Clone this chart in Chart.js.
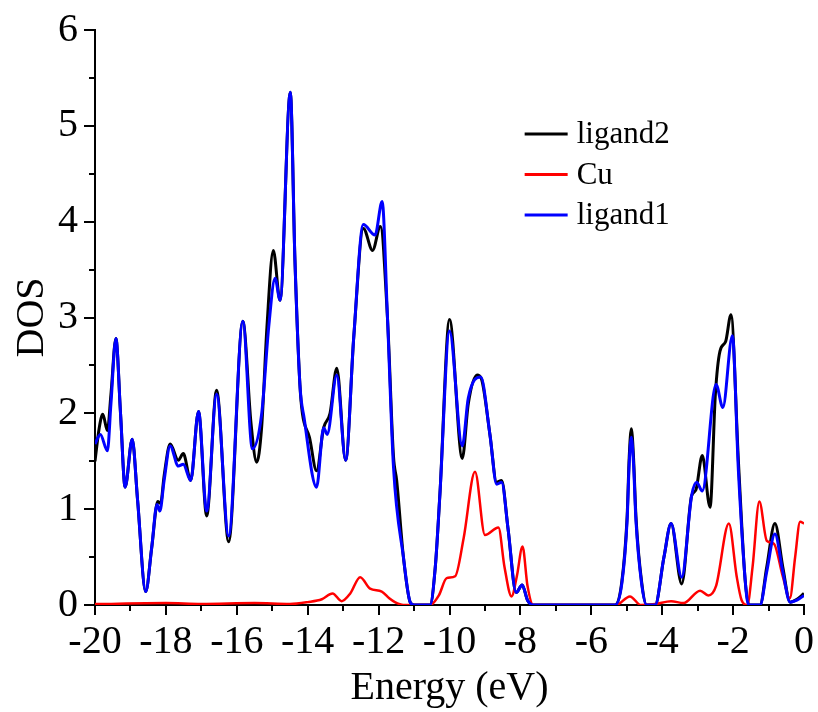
<!DOCTYPE html>
<html><head><meta charset="utf-8">
<script src="https://cdn.jsdelivr.net/npm/chart.js@4/dist/chart.umd.min.js"></script>
<style>html,body{margin:0;padding:0;background:#fff}#wrap{width:818px;height:712px}</style>
</head><body><div id="wrap"><canvas id="c" width="818" height="712"></canvas></div>
<script>
// ---- data ----
const seriesNames = ['ligand2', 'Cu', 'ligand1'];
const seriesColors = ['#000000', '#ff0000', '#0000ff'];

const ligand2E = [-20.0,-19.88,-19.78,-19.65,-19.55,-19.41,-19.28,-19.15,-18.95,-18.8,-18.57,-18.4,-18.23,-18.15,-18.05,-17.88,-17.65,-17.51,-17.3,-17.08,-16.85,-16.57,-16.23,-15.83,-15.6,-15.44,-15.3,-15.15,-14.97,-14.78,-14.49,-14.36,-14.22,-14.15,-13.95,-13.75,-13.55,-13.37,-13.18,-12.93,-12.7,-12.43,-12.17,-11.95,-11.75,-11.58,-11.49,-11.3,-11.11,-11.0,-10.55,-10.4,-10.27,-10.0,-9.64,-9.47,-9.22,-9.1,-8.86,-8.67,-8.53,-8.35,-8.12,-7.95,-7.8,-7.64,-5.33,-5.14,-4.99,-4.93,-4.87,-4.81,-4.74,-4.58,-4.44,-4.2,-3.95,-3.75,-3.45,-3.17,-3.05,-2.87,-2.65,-2.5,-2.37,-2.21,-2.06,-1.85,-1.66,-1.55,-1.24,-1.05,-0.82,-0.6,-0.39,-0.2,0.0];
const ligand2DOS = [1.50,1.85,1.99,1.82,2.2,2.78,2.0,1.23,1.73,1.1,0.14,0.6,1.08,1.06,1.35,1.68,1.51,1.58,1.30,2.02,0.93,2.24,0.66,2.96,1.9,1.49,1.85,2.9,3.70,3.18,5.35,3.6,2.3,2.0,1.75,1.40,1.85,2.0,2.47,1.51,2.8,3.93,3.70,3.95,3.0,1.55,1.30,0.5,0.03,0,0,0.4,1.16,2.98,1.53,2.1,2.40,2.36,1.78,1.28,1.30,0.8,0.13,0.21,0.05,0,0,0.24,0.92,1.55,1.84,1.55,0.92,0.24,0,0,0.5,0.85,0.22,1.14,1.2,1.56,1.02,2.2,2.65,2.75,3.03,1.5,0.26,0,0,0.4,0.85,0.4,0.03,0.06,0.12];

const cuE = [-20,-18,-17,-15.5,-14.5,-14.0,-13.6,-13.3,-13.04,-12.8,-12.52,-12.24,-11.91,-11.7,-11.54,-11.3,-10.55,-10.3,-10.08,-9.84,-9.6,-9.28,-9.0,-8.62,-8.45,-8.25,-8.1,-7.94,-7.8,-7.64,-5.3,-4.91,-4.6,-4.2,-3.75,-3.4,-2.93,-2.7,-2.48,-2.12,-1.9,-1.76,-1.6,-1.45,-1.26,-1.05,-0.85,-0.6,-0.4,-0.25,-0.11,0];
const cuDOS = [0.01,0.02,0.01,0.02,0.01,0.03,0.06,0.12,0.04,0.12,0.29,0.17,0.14,0.07,0.03,0,0,0.1,0.28,0.30,0.7,1.39,0.73,0.81,0.4,0.09,0.3,0.61,0.2,0,0,0.09,0,0.01,0.04,0.02,0.15,0.10,0.2,0.85,0.3,0.05,0,0.4,1.08,0.67,0.64,0.3,0.07,0.5,0.87,0.85];

const ligand1E = [-20.0,-19.85,-19.65,-19.55,-19.41,-19.28,-19.15,-18.95,-18.8,-18.57,-18.4,-18.25,-18.17,-18.05,-17.88,-17.65,-17.51,-17.3,-17.08,-16.85,-16.57,-16.23,-15.83,-15.56,-15.3,-15.1,-14.92,-14.78,-14.49,-14.36,-14.22,-14.1,-13.75,-13.55,-13.45,-13.18,-12.93,-12.7,-12.43,-12.1,-11.9,-11.75,-11.58,-11.3,-11.11,-11.0,-10.55,-10.4,-10.27,-10.0,-9.64,-9.47,-9.12,-8.86,-8.67,-8.53,-8.35,-8.12,-7.95,-7.8,-7.64,-5.33,-5.14,-4.99,-4.93,-4.87,-4.81,-4.74,-4.58,-4.44,-4.2,-3.95,-3.75,-3.45,-3.17,-3.03,-2.87,-2.48,-2.29,-2.02,-1.85,-1.62,-1.55,-1.24,-1.05,-0.82,-0.6,-0.39,-0.2,0.0];
const ligand1DOS = [1.68,1.78,1.61,2.1,2.78,2.0,1.23,1.73,1.1,0.14,0.6,1.05,0.98,1.3,1.66,1.45,1.47,1.30,2.02,0.98,2.2,0.72,2.96,1.63,1.99,2.9,3.41,3.18,5.35,3.6,2.3,1.95,1.23,1.85,1.78,2.40,1.51,2.8,3.97,3.86,4.21,3.0,1.44,0.5,0.03,0,0,0.4,1.16,2.86,1.66,2.16,2.38,1.78,1.26,1.28,0.8,0.13,0.21,0.05,0,0,0.22,0.88,1.48,1.75,1.48,0.88,0.22,0,0,0.5,0.85,0.29,1.14,1.28,1.19,2.30,2.06,2.81,1.4,0.1,0,0,0.35,0.74,0.35,0.03,0.05,0.10];

const xTickValues = [-20,-18,-16,-14,-12,-10,-8,-6,-4,-2,0];
const yTickValues = [0,1,2,3,4,5,6];

// ---- build ----
const pts = (xs, ys) => xs.map((x, i) => ({x: x, y: ys[i]}));
const serif = 'Liberation Serif, Times New Roman, serif';
Chart.defaults.color = '#000';

const minorTicks = {
  id: 'minorTicks',
  afterDraw(chart) {
    const {ctx, scales: {x, y}} = chart;
    ctx.save();
    ctx.strokeStyle = '#000';
    ctx.lineWidth = 2;
    for (let i = 0; i < yTickValues.length - 1; i++) {
      const v = (yTickValues[i] + yTickValues[i + 1]) / 2;
      const py = Math.round(y.getPixelForValue(v));
      ctx.beginPath(); ctx.moveTo(x.left - 6, py); ctx.lineTo(x.left, py); ctx.stroke();
    }
    for (let i = 0; i < xTickValues.length - 1; i++) {
      const v = (xTickValues[i] + xTickValues[i + 1]) / 2;
      const px = Math.round(x.getPixelForValue(v));
      ctx.beginPath(); ctx.moveTo(px, y.bottom); ctx.lineTo(px, y.bottom + 6); ctx.stroke();
    }
    ctx.restore();
  }
};

const customLegend = {
  id: 'customLegend',
  afterDraw(chart) {
    const ctx = chart.ctx;
    const area = chart.chartArea;
    const x0 = area.left + (area.right - area.left) * 0.606;
    const y0 = area.top + (area.bottom - area.top) * 0.181;
    const rowH = 40.5;
    ctx.save();
    ctx.font = '31px ' + serif;
    ctx.textBaseline = 'alphabetic';
    ctx.textAlign = 'left';
    seriesNames.forEach((name, i) => {
      const yy = y0 + i * rowH;
      ctx.strokeStyle = seriesColors[i];
      ctx.lineWidth = 3;
      ctx.beginPath(); ctx.moveTo(x0, yy); ctx.lineTo(x0 + 43, yy); ctx.stroke();
      ctx.fillStyle = '#000';
      ctx.fillText(name, x0 + 52, yy + 9);
    });
    ctx.restore();
  }
};

const dataSets = [
  {label: seriesNames[0], data: pts(ligand2E, ligand2DOS), borderColor: seriesColors[0], order: 3},
  {label: seriesNames[1], data: pts(cuE, cuDOS), borderColor: seriesColors[1], order: 2, borderWidth: 2.5},
  {label: seriesNames[2], data: pts(ligand1E, ligand1DOS), borderColor: seriesColors[2], order: 1}
].map(d => Object.assign({borderWidth: 3, pointRadius: 0, fill: false, cubicInterpolationMode: 'monotone'}, d));

new Chart(document.getElementById('c'), {
  type: 'line',
  data: {datasets: dataSets},
  options: {
    responsive: false,
    animation: false,
    layout: {padding: {left: 0, right: 14, top: 27, bottom: 0}},
    plugins: {legend: {display: false}, tooltip: {enabled: false}},
    scales: {
      x: {
        type: 'linear', min: -20, max: 0,
        afterBuildTicks: s => { s.ticks = xTickValues.map(v => ({value: v})); },
        afterFit: s => { s.height = 107; },
        ticks: {font: {family: serif, size: 40}, color: '#000', padding: 3, maxRotation: 0, autoSkip: false},
        grid: {drawOnChartArea: false, tickLength: 10, color: '#000', lineWidth: 2},
        border: {color: '#000', width: 2},
        title: {display: true, text: 'Energy (eV)', font: {family: serif, size: 40}, color: '#000', padding: {top: 0, bottom: 0}}
      },
      y: {
        type: 'linear', min: 0, max: 6,
        afterBuildTicks: s => { s.ticks = yTickValues.map(v => ({value: v})); },
        afterFit: s => { s.width = 95; },
        ticks: {font: {family: serif, size: 40}, color: '#000', padding: 6},
        grid: {drawOnChartArea: false, tickLength: 11, color: '#000', lineWidth: 2},
        border: {color: '#000', width: 2},
        title: {display: true, text: 'DOS', font: {family: serif, size: 40}, color: '#000', padding: {top: 8, bottom: 0}}
      }
    }
  },
  plugins: [minorTicks, customLegend]
});
</script></body></html>
